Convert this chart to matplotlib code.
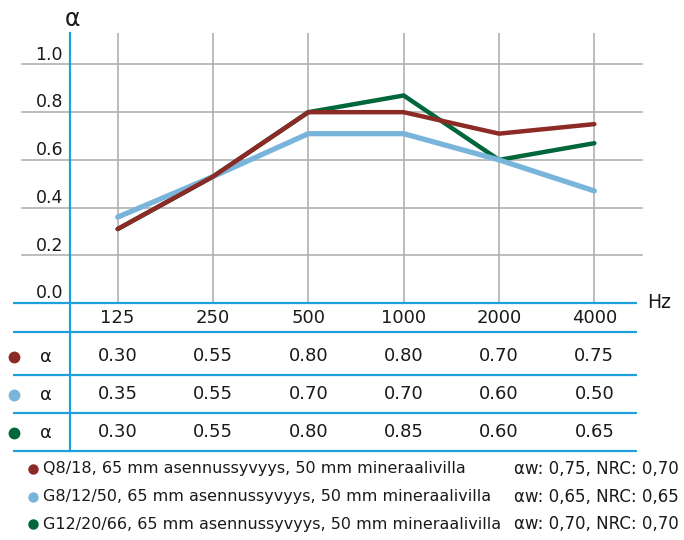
"""
Sound absorption chart: alpha per octave band, three ceiling panels,
with the value table and legend underneath.
"""

import matplotlib
matplotlib.use("Agg")
import matplotlib.pyplot as plt
from matplotlib.lines import Line2D


# ── Data ──────────────────────────────────────────────────────────────────────

FREQS = ["125", "250", "500", "1000", "2000", "4000"]

# values as drawn by the lines
RED_LINE   = [0.31, 0.53, 0.80, 0.80, 0.71, 0.75]
BLUE_LINE  = [0.36, 0.53, 0.71, 0.71, 0.60, 0.47]
GREEN_LINE = [0.31, 0.53, 0.80, 0.87, 0.60, 0.67]

# values printed in the table
RED_TABLE   = ["0.30", "0.55", "0.80", "0.80", "0.70", "0.75"]
BLUE_TABLE  = ["0.35", "0.55", "0.70", "0.70", "0.60", "0.50"]
GREEN_TABLE = ["0.30", "0.55", "0.80", "0.85", "0.60", "0.65"]

Y_TICKS = [0.0, 0.2, 0.4, 0.6, 0.8, 1.0]

LEGEND_NAMES = [
    "Q8/18, 65 mm asennussyvyys, 50 mm mineraalivilla",
    "G8/12/50, 65 mm asennussyvyys, 50 mm mineraalivilla",
    "G12/20/66, 65 mm asennussyvyys, 50 mm mineraalivilla",
]
LEGEND_RATINGS = [
    "αw: 0,75, NRC: 0,70",
    "αw: 0,65, NRC: 0,65",
    "αw: 0,70, NRC: 0,70",
]


# ── Style ─────────────────────────────────────────────────────────────────────

W, H = 684, 540
RED   = "#8c2a25"
BLUE  = "#79b5db"
GREEN = "#00673a"
AXIS  = "#1ea0dc"
GRID  = "#ababab"
TXT   = "#1a1a1a"

plt.rcParams["font.family"] = ["DejaVu Sans"]


def fx(px):
    return px / W


def fy(py):
    return 1 - py / H


def hline(fig, y, x0, x1, color, lw):
    fig.add_artist(Line2D([fx(x0), fx(x1)], [fy(y), fy(y)], color=color,
                          lw=lw, transform=fig.transFigure, solid_capstyle="butt"))


fig = plt.figure(figsize=(W / 100, H / 100), dpi=100)

# main chart axes: left blue spine at x=70, x-axis at y=303, top at y=33
ax = fig.add_axes([fx(70), fy(303), fx(642) - fx(70), fy(33) - fy(303)])
ax.set_xlim(-0.5, 5.5)
ax.set_ylim(0, 1.132)
ax.axis("off")
xs = list(range(len(FREQS)))

for x in xs:
    ax.axvline(x, color=GRID, lw=1.1, zorder=1)
for v in Y_TICKS[1:]:
    ax.axhline(v, xmin=-0.084, xmax=1.0, color=GRID, lw=1.1, zorder=1, clip_on=False)
for v in Y_TICKS:
    ax.annotate(f"{v:.1f}", xy=(0, v), xycoords=("axes fraction", "data"),
                xytext=(-5, 0.5), textcoords="offset points",
                ha="right", va="bottom", fontsize=12.5, color=TXT)

ax.plot(xs, GREEN_LINE, color=GREEN, lw=3.2, zorder=3, solid_capstyle="round")
ax.plot(xs, BLUE_LINE, color=BLUE, lw=3.8, zorder=4, solid_capstyle="round")
ax.plot(xs, RED_LINE, color=RED, lw=3.2, zorder=5, solid_capstyle="round")

# axis and table frame lines
fig.add_artist(Line2D([fx(70), fx(70)], [fy(33), fy(451)], color=AXIS, lw=1.6,
                      transform=fig.transFigure))
for y in [303, 332, 375, 413, 451]:
    hline(fig, y, 13, 637, AXIS, 1.6)

fig.text(fx(72), fy(19), "α", ha="center", va="center", fontsize=17, color=TXT)
fig.text(fx(647), fy(303), "Hz", ha="left", va="center", fontsize=13.5, color=TXT)

# table under the chart, x positions shared with the chart
tax = fig.add_axes([fx(70), fy(451), fx(642) - fx(70), fy(303) - fy(451)], sharex=ax)
tax.set_ylim(451, 303)
tax.axis("off")

for x, f in zip(xs, FREQS):
    tax.text(x, 318, f, ha="center", va="center", fontsize=13, color=TXT)

rows = [(RED, RED_TABLE, 356), (BLUE, BLUE_TABLE, 394), (GREEN, GREEN_TABLE, 432)]
for color, vals, y in rows:
    fig.add_artist(Line2D([fx(14)], [fy(y + 1)], marker="o", ms=7.5, color=color,
                          lw=0, transform=fig.transFigure))
    fig.text(fx(46), fy(y + 1), "α", ha="center", va="center", fontsize=13, color=TXT)
    for x, s in zip(xs, vals):
        tax.text(x, y, s, ha="center", va="center", fontsize=13, color=TXT)

# legend
for (color, name, rating, y) in zip([RED, BLUE, GREEN], LEGEND_NAMES, LEGEND_RATINGS,
                                     [469, 497, 524]):
    fig.add_artist(Line2D([fx(33)], [fy(y)], marker="o", ms=6.5, color=color,
                          lw=0, transform=fig.transFigure))
    fig.text(fx(43), fy(y), name, ha="left", va="center", fontsize=11.5, color=TXT)
    fig.text(fx(514), fy(y), rating, ha="left", va="center", fontsize=12, color=TXT)

fig.savefig("out.png", dpi=100)
